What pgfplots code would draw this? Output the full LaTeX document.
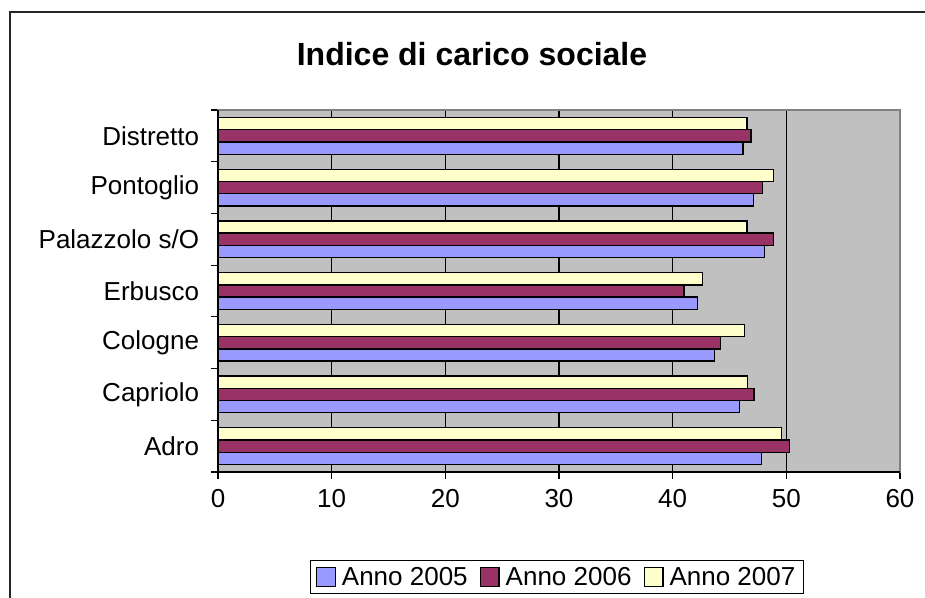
\documentclass[border=0pt]{standalone}
\usepackage{pgfplots}
\pgfplotsset{compat=1.18}
\usepackage{fontspec}
\setmainfont{Liberation Sans}

\definecolor{anno05}{HTML}{9999FF}
\definecolor{anno06}{HTML}{993366}
\definecolor{anno07}{HTML}{FFFFCC}
\definecolor{plotgray}{HTML}{C0C0C0}
\definecolor{framegray}{HTML}{808080}

\newcommand{\labfont}{\fontsize{19.5}{22}\selectfont}

\begin{document}
\begin{tikzpicture}
% page area and chart frame
\path[use as bounding box] (0pt,0pt) rectangle (693.75pt,448.5pt);
\draw[line width=1.1pt, black!85] (7.5pt,-5pt) -- (7.5pt,439.5pt) -- (700pt,439.5pt);

\node[font=\fontsize{24}{28}\selectfont\bfseries] at (354pt,408pt) {Indice di carico sociale};

\begin{axis}[
  at={(163.5pt,94.5pt)}, anchor=south west,
  scale only axis, width=511.5pt, height=271.5pt,
  xbar=0pt, bar width=9.2pt,
  xmin=0, xmax=60, ymin=-0.5, ymax=6.5,
  xtick={0,10,...,60},
  ytick={0,...,6},
  yticklabels={Adro,Capriolo,Cologne,Erbusco,Palazzolo s/O,Pontoglio,Distretto},
  minor ytick={-0.5,0.5,...,6.5},
  tick pos=left, tick align=outside,
  major tick length=5pt, minor tick length=5pt,
  major y tick style={draw=none},
  minor y tick style={black, line width=0.8pt},
  major x tick style={black, line width=0.8pt},
  xmajorgrids, major x grid style={black, line width=0.8pt},
  axis background/.style={fill=plotgray},
  axis line style={draw=framegray, line width=1.2pt},
  /pgf/number format/assume math mode=true,
  tick label style={font=\labfont},
  x tick label style={inner sep=0pt, yshift=-8pt},
  y tick label style={inner sep=0pt, xshift=-9pt},
  every axis plot/.append style={draw=black, line width=1pt},
  legend image code/.code={%
    \draw[#1, draw=black, line width=1pt] (0pt,-7pt) rectangle (14pt,7pt);
    \path (16.5pt,0pt);},
  legend style={at={(0.497,-0.290)}, anchor=center, legend columns=3,
    draw=black, line width=0.8pt, font=\labfont,
    inner xsep=4pt, inner ysep=3pt,
    /tikz/every even column/.append style={column sep=7pt}},
  clip=false,
]
\addplot[fill=anno05] coordinates {(47.8,0) (45.9,1) (43.7,2) (42.2,3) (48.05,4) (47.1,5) (46.2,6)};
\addplot[fill=anno06] coordinates {(50.3,0) (47.15,1) (44.2,2) (41.0,3) (48.9,4) (47.9,5) (46.9,6)};
\addplot[fill=anno07] coordinates {(49.6,0) (46.6,1) (46.3,2) (42.6,3) (46.55,4) (48.9,5) (46.55,6)};
\legend{Anno 2005,Anno 2006,Anno 2007}
\draw[black, line width=1.2pt] (rel axis cs:0,1) -- (rel axis cs:0,0) -- (rel axis cs:1,0);
\end{axis}
\end{tikzpicture}
\end{document}
